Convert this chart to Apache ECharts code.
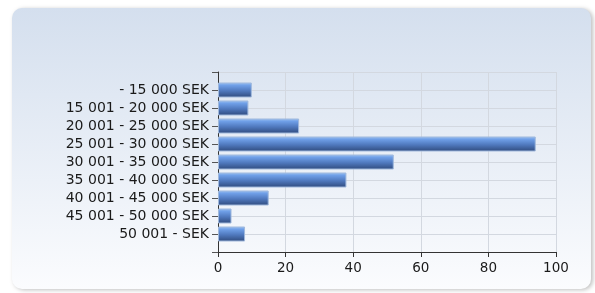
<!DOCTYPE html>
<html>
<head>
<meta charset="utf-8">
<script src="https://cdn.jsdelivr.net/npm/echarts@6/dist/echarts.min.js"></script>
<style>
  html, body { margin: 0; padding: 0; background: #fff; }
  #chart { width: 595px; height: 293px; }
</style>
</head>
<body>
<div id="chart"></div>
<script>
// salary bands (top to bottom), padded with blank ends so ticks sit at the plot edges
var categories = ['- 15 000 SEK', '15 001 - 20 000 SEK', '20 001 - 25 000 SEK', '25 001 - 30 000 SEK',
  '30 001 - 35 000 SEK', '35 001 - 40 000 SEK', '40 001 - 45 000 SEK', '45 001 - 50 000 SEK', '50 001 - SEK'];
var counts = [10, 9, 24, 94, 52, 38, 15, 4, 8];
var xTicks = [0, 20, 40, 60, 80, 100];

var chart = echarts.init(document.getElementById('chart'));

var fontFamily = '"DejaVu Sans", Verdana, sans-serif';

var option = {
  animation: false,
  graphic: [{
    type: 'rect',
    shape: { x: 12, y: 8, width: 579, height: 281, r: 10 },
    style: {
      fill: new echarts.graphic.LinearGradient(0, 0, 0, 1, [
        { offset: 0, color: '#d4dfee' },
        { offset: 1, color: '#fbfcfe' }
      ]),
      shadowColor: 'rgba(0,0,0,0.25)',
      shadowBlur: 4,
      shadowOffsetX: 2,
      shadowOffsetY: 1
    },
    z: -10
  }],
  grid: { left: 218, right: 39, top: 72, bottom: 41, containLabel: false },
  xAxis: {
    type: 'value',
    min: xTicks[0],
    max: xTicks[xTicks.length - 1],
    interval: 20,
    axisLine: { show: true, lineStyle: { color: '#333', width: 1 } },
    axisTick: { show: true, length: 5, lineStyle: { color: '#333' } },
    splitLine: { show: true, lineStyle: { color: '#d3d8e0' } },
    axisLabel: { color: '#1a1a1a', fontSize: 13.5, fontFamily: fontFamily, margin: 9 }
  },
  yAxis: {
    type: 'category',
    inverse: true,
    data: [''].concat(categories, ['']),
    boundaryGap: false,
    axisLine: { show: true, lineStyle: { color: '#333', width: 1 } },
    axisTick: { show: true, length: 6, interval: 0, lineStyle: { color: '#555' } },
    splitLine: { show: true, interval: 0, lineStyle: { color: '#d3d8e0' } },
    axisLabel: { color: '#1a1a1a', fontSize: 14, fontFamily: fontFamily, margin: 9, interval: 0, hideOverlap: false }
  },
  series: [{
    type: 'bar',
    data: [null].concat(counts, [null]),
    barWidth: 15,
    itemStyle: {
      color: new echarts.graphic.LinearGradient(0, 0, 0, 1, [
        { offset: 0, color: '#9cc2f4' },
        { offset: 0.2, color: '#6e9ee6' },
        { offset: 0.55, color: '#5079be' },
        { offset: 1, color: '#2f4a7c' }
      ]),
      borderColor: '#9fb8dc',
      borderWidth: 1
    }
  }]
};

chart.setOption(option);
</script>
</body>
</html>
